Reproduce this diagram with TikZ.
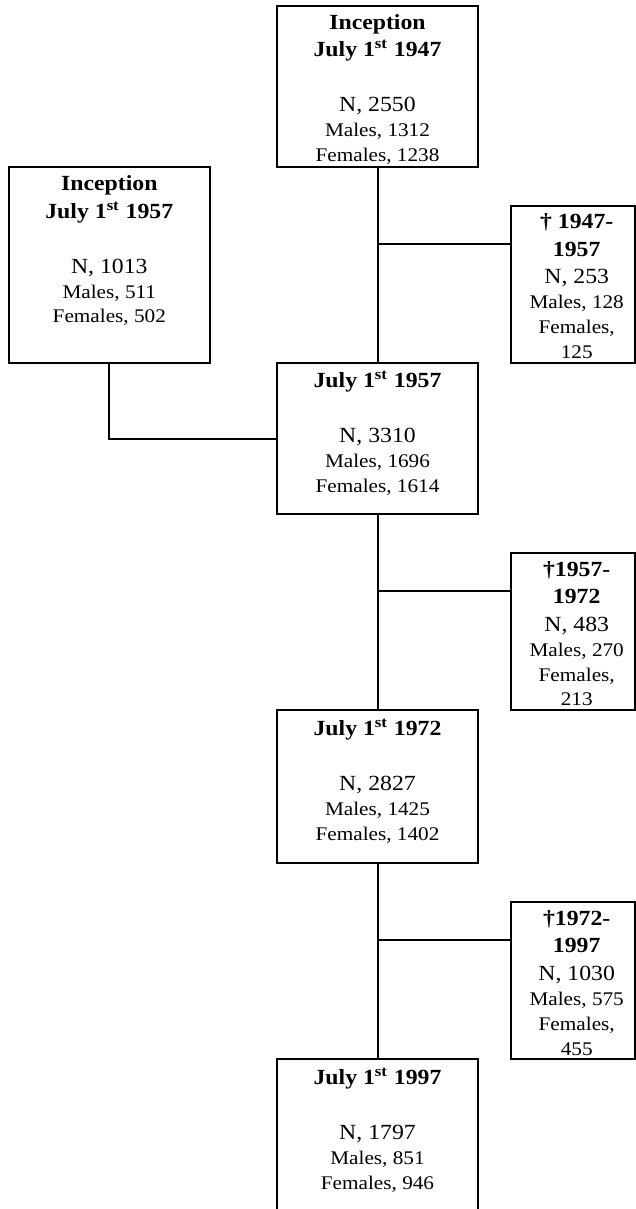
\documentclass[tikz,border=0pt]{standalone}
\usepackage{fontspec}
\setmainfont[FakeStretch=1.1]{Liberation Serif}
\usepackage{tikz}
\usetikzlibrary{positioning}
\newcommand{\smallrow}{\fontsize{9.65pt}{12.5pt}\selectfont}

\begin{document}
\begin{tikzpicture}[
    node distance=98pt and 16.2pt, % Vertical and horizontal spacing
    box/.style={draw, rectangle, line width=1pt, outer sep=0pt, inner sep=0pt, minimum width=100.8pt},
    deathbox/.style={box, minimum width=62pt, minimum height=78.5pt},
    txt/.style={anchor=north, align=center, inner sep=0pt, outer sep=0pt, yshift=-4.3pt, font=\fontsize{10.8pt}{13.75pt}\selectfont},
    dtxt/.style={txt, yshift=0.3pt, xshift=2pt},
    link/.style={line width=1pt}
]
\useasboundingbox (0,0) rectangle (318pt,-604.5pt);
\clip (0,0) rectangle (318pt,-604.5pt);

%%%%% Main chain of cohorts
\node[box, anchor=north west, minimum height=80.5pt,
      label={[txt]north:{\textbf{Inception}\\\textbf{July 1\textsuperscript{st} 1947}\\ \\N, 2550\\[-1.3pt]{\smallrow Males, 1312}\\[-1.3pt]{\smallrow Females, 1238}}}]
      (c47) at (138.35pt,-2.85pt) {};
\node[box, below=of c47, minimum height=75.8pt,
      label={[txt]north:{\textbf{July 1\textsuperscript{st} 1957}\\ \\N, 3310\\[-1.3pt]{\smallrow Males, 1696}\\[-1.3pt]{\smallrow Females, 1614}}}]
      (c57) {};
\node[box, below=of c57, minimum height=76.5pt,
      label={[txt]north:{\textbf{July 1\textsuperscript{st} 1972}\\ \\N, 2827\\[-1.3pt]{\smallrow Males, 1425}\\[-1.3pt]{\smallrow Females, 1402}}}]
      (c72) {};
\node[box, below=of c72, minimum height=82pt,
      label={[txt]north:{\textbf{July 1\textsuperscript{st} 1997}\\ \\N, 1797\\[-1.3pt]{\smallrow Males, 851}\\[-1.3pt]{\smallrow Females, 946}}}]
      (c97) {};

%  New inception
\node[box, above left=0pt and 33.3pt of c57, minimum height=97.8pt,
      label={[txt]north:{\textbf{Inception}\\\textbf{July 1\textsuperscript{st} 1957}\\ \\N, 1013\\[-1.3pt]{\smallrow Males, 511}\\[-1.3pt]{\smallrow Females, 502}}}]
      (new57) {};

%  Deaths
\node[deathbox, above right=0pt and 16.2pt of c57,
      label={[dtxt]north:{\textbf{† 1947-}\\\textbf{1957}\\N, 253\\[-1.3pt]{\smallrow Males, 128}\\[-1.3pt]{\smallrow Females,}\\[-1.3pt]{\smallrow 125}}}]
      (d57) {};
\node[deathbox, above right=0pt and 16.2pt of c72,
      label={[dtxt]north:{\textbf{†1957-}\\\textbf{1972}\\N, 483\\[-1.3pt]{\smallrow Males, 270}\\[-1.3pt]{\smallrow Females,}\\[-1.3pt]{\smallrow 213}}}]
      (d72) {};
\node[deathbox, above right=0pt and 16.2pt of c97,
      label={[dtxt]north:{\textbf{†1972-}\\\textbf{1997}\\N, 1030\\[-1.3pt]{\smallrow Males, 575}\\[-1.3pt]{\smallrow Females,}\\[-1.3pt]{\smallrow 455}}}]
      (d97) {};

\coordinate[below=19pt of d57.north west] (j57);
\coordinate[below=19pt of d72.north west] (j72);
\coordinate[below=19pt of d97.north west] (j97);

%  Draw links
\draw[link] (c47) -- (c57);
\draw[link] (c57) -- (c72);
\draw[link] (c72) -- (c97);

\draw[link] (j57) -- (j57 -| c47.south);
\draw[link] (j72) -- (j72 -| c57.south);
\draw[link] (j97) -- (j97 -| c72.south);

\draw[link] (new57.south) |- (c57.west);

\end{tikzpicture}
\end{document}
